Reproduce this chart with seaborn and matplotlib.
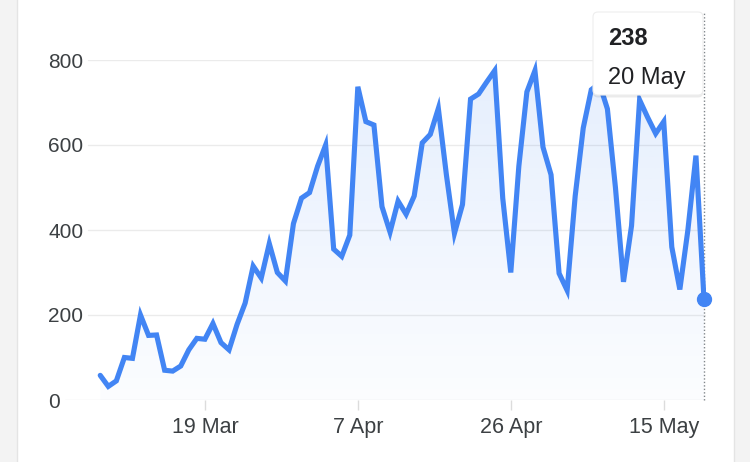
import numpy as np
import pandas as pd
import matplotlib
matplotlib.use("Agg")
import matplotlib.pyplot as plt
import matplotlib.dates as mdates
from matplotlib.patches import Rectangle, FancyBboxPatch
from matplotlib.colors import LinearSegmentedColormap
import seaborn as sns

# -----------------------------
# Data (daily values, 6 Mar - 20 May)
# -----------------------------
first_day = "2020-03-06"
last_day = "2020-05-20"
cases = [58, 32, 45, 100, 98, 200, 152, 153, 70, 68,
         80, 118, 145, 143, 180, 135, 118, 178, 228, 315,
         287, 368, 300, 280, 415, 475, 488, 550, 600, 355,
         338, 388, 737, 655, 647, 455, 395, 468, 437, 480,
         605, 625, 686, 530, 392, 460, 708, 720, 748, 775,
         475, 300, 550, 725, 775, 595, 530, 298, 258, 480,
         640, 730, 745, 685, 500, 278, 410, 706, 665, 627,
         655, 360, 260, 400, 575, 238]
tick_days = ["2020-03-19", "2020-04-07", "2020-04-26", "2020-05-15"]
y_ticks = [0, 200, 400, 600, 800]

days = pd.date_range(first_day, last_day, freq="D")
df = pd.DataFrame({"day": days, "cases": cases})

# -----------------------------
# Style
# -----------------------------
sns.set_theme(style="white")
plt.rcParams["font.family"] = ["Liberation Sans", "DejaVu Sans"]
plt.rcParams["lines.solid_joinstyle"] = "miter"

blue = "#4285f4"
text_col = "#3c4043"

fig = plt.figure(figsize=(7.5, 4.62), dpi=100, facecolor="#f3f3f3")
# white card
fig.add_artist(Rectangle((0.165, -0.1), 7.17, 5.0, transform=fig.dpi_scale_trans,
                         facecolor="white", edgecolor="#e4e4e4", lw=1, zorder=-1))

ax = fig.add_axes([62 / 750, 1 - 400 / 462, 644 / 750, 340 / 462])
ax.set_facecolor("none")

# gradient fill under the line
poly = ax.fill_between(df["day"], df["cases"], 0, color="none", lw=0)
x_num = mdates.date2num(df["day"])
fade = LinearSegmentedColormap.from_list(
    "fade", [(66 / 255, 133 / 255, 244 / 255, 0.02), (66 / 255, 133 / 255, 244 / 255, 0.14)])
img = ax.imshow(np.linspace(0, 1, 256).reshape(-1, 1), aspect="auto", cmap=fade,
                origin="lower", extent=[x_num[0], x_num[-1], 0, 800], zorder=1)
img.set_clip_path(poly.get_paths()[0], transform=ax.transData)

sns.lineplot(data=df, x="day", y="cases", color=blue, lw=3.7, ax=ax, zorder=3)

# hover marker + crosshair
ax.plot(days[-1], cases[-1], "o", ms=10, color=blue, zorder=4, clip_on=False)
ax.axvline(days[-1], ymin=0, ymax=(400 - 12) / 340, clip_on=False,
           ls=(0, (1, 1.5)), color="#80868b", lw=1, zorder=2)

ax.set_ylim(0, 800)
ax.set_xlim(days[0] - pd.Timedelta(days=4.75), days[-1] + pd.Timedelta(days=0.25))
ax.set_yticks(y_ticks)
ax.set_xticks(pd.to_datetime(tick_days))
ax.xaxis.set_major_formatter(mdates.DateFormatter("%-d %b"))
ax.set_xlabel("")
ax.set_ylabel("")
sns.despine(ax=ax, left=True, bottom=True)

ax.tick_params(axis="y", left=False, length=0, pad=10, labelsize=15, labelcolor=text_col)
ax.tick_params(axis="x", bottom=True, length=7, width=1, color="#dcdcdc", pad=5,
               labelsize=15.5, labelcolor=text_col)
plt.setp(ax.get_yticklabels(), ha="left")

# gridlines start just after each label
fig.canvas.draw()
ax_box = ax.get_window_extent()
for val, lbl in zip(y_ticks, ax.get_yticklabels()):
    right = lbl.get_window_extent().x1 + 5
    start = max(0, (right - ax_box.x0) / ax_box.width)
    ax.axhline(val, xmin=start, xmax=1, color="#ebebeb", lw=1, zorder=0)

# tooltip
tr = fig.dpi_scale_trans
fig.add_artist(FancyBboxPatch((5.93, 3.645), 1.10, 0.83, transform=tr,
                              boxstyle="round,pad=0,rounding_size=0.05",
                              facecolor="#000000", alpha=0.08, lw=0, zorder=5))
fig.add_artist(FancyBboxPatch((5.93, 3.67), 1.10, 0.83, transform=tr,
                              boxstyle="round,pad=0,rounding_size=0.05",
                              facecolor="white", edgecolor="#eeeeee", lw=0.8, zorder=6))
fig.text(6.08, 4.23, str(cases[-1]), transform=tr, fontsize=17, fontweight="bold",
         color="#202124", va="center", ha="left", zorder=7)
fig.text(6.08, 3.84, days[-1].strftime("%-d %b"), transform=tr, fontsize=17,
         color="#202124", va="center", ha="left", zorder=7)

fig.savefig("out.png", dpi=100, facecolor=fig.get_facecolor())
